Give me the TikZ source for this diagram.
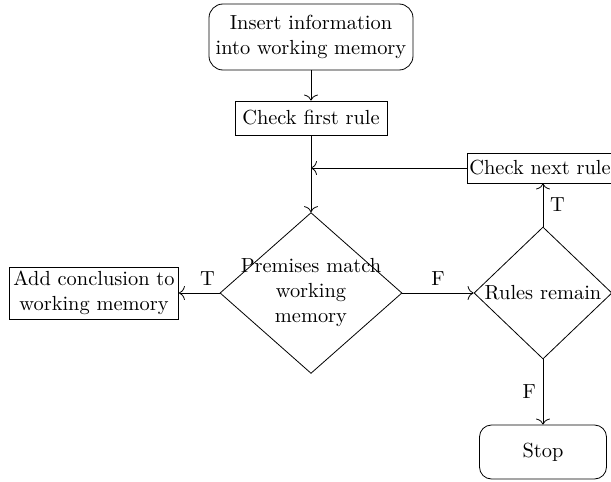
\documentclass[tikz,border=0pt]{standalone}
\usepackage{tikz}
\usetikzlibrary{shapes.geometric, arrows, arrows.meta, positioning}

\begin{document}
\begin{tikzpicture}[
    font=\fontsize{10.2}{12.5}\selectfont,
    start/.style={rectangle, rounded corners=7pt, minimum width=102pt, minimum height=33pt, align=center, text centered, draw=black},
    stopbox/.style={rectangle, rounded corners=6pt, minimum width=63.5pt, minimum height=27pt, text centered, draw=black},
    process/.style={rectangle, inner sep=1pt, minimum height=15pt, align=center, text centered, draw=black},
    decision/.style={diamond, inner sep=0pt, minimum width=69pt, minimum height=66pt, align=center, text centered, draw=black},
    arrow/.style={-{To[length=3pt,width=7pt]}}
]
\useasboundingbox (-155.5pt,18.5pt) rectangle (150pt,-222.5pt);

\node (insert) [start] {Insert information\\into working memory};
\node (first) [process, minimum width=76pt, minimum height=17pt, below of=insert, node distance=40.5pt] {Check first rule};
\node (match) [decision, inner sep=-6pt, minimum width=91pt, minimum height=80pt, below of=first, node distance=87.5pt] {Premises match\\working\\memory};
\node (add) [process, minimum width=84.5pt, minimum height=26pt, left of=match, node distance=108.5pt] {Add conclusion to\\working memory};
\node (rules) [decision, right of=match, node distance=116pt] {Rules remain};
\node (next) [process, minimum width=71.5pt, above of=rules, node distance=62.5pt, xshift=-1.5pt] {Check next rule};
\node (stop) [stopbox, below of=rules, node distance=79.5pt] {Stop};

\draw [arrow] (insert) -- (first);
\draw [arrow] (first) -- (match);
\draw [arrow] (next.west) -- (next.west -| first);
\draw [arrow] (match) -- node[above, pos=0.3] {T} (add);
\draw [arrow] (match) -- node[above] {F} (rules);
\draw [arrow] (rules.north) -- node[right] {T} (rules.north |- next.south);
\draw [arrow] (rules) -- node[left] {F} (stop);

\end{tikzpicture}
\end{document}
